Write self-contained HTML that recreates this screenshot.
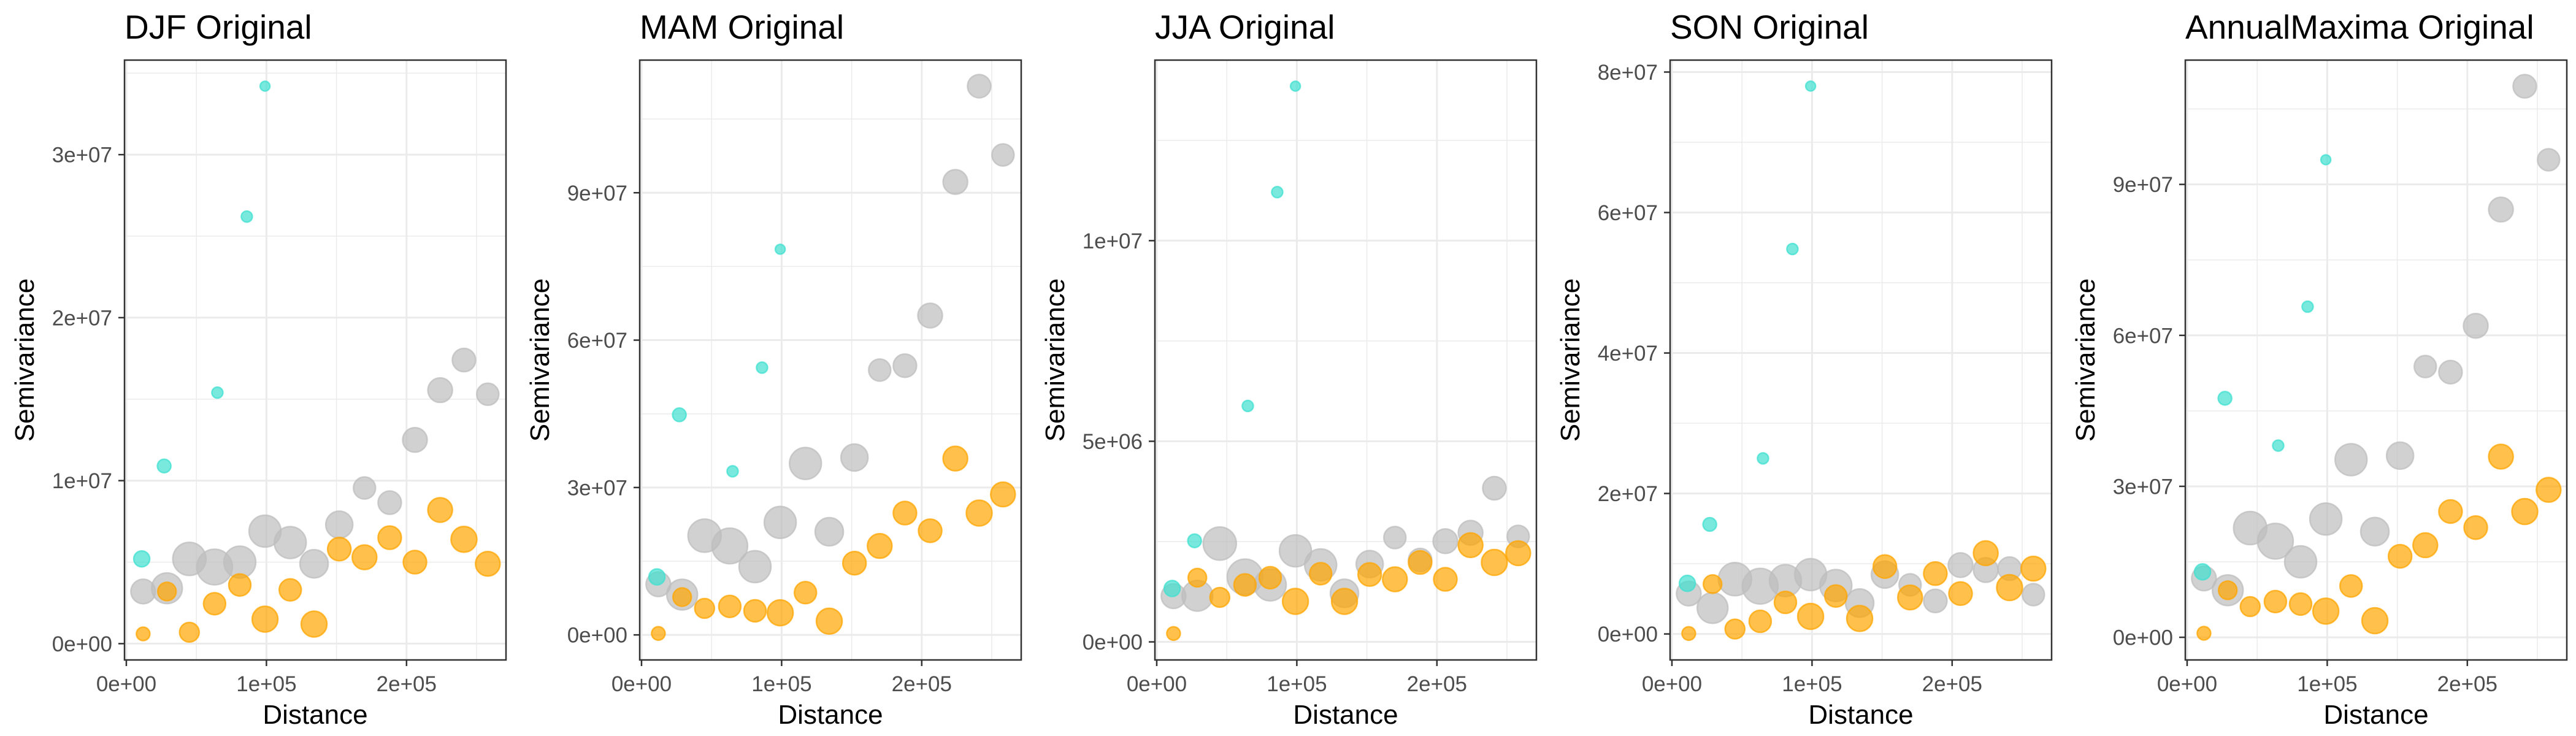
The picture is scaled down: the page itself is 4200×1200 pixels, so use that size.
<!DOCTYPE html>
<html><head><meta charset="utf-8">
<style>
html,body{margin:0;padding:0;background:#fff;}
svg{display:block;}
text{font-family:"Liberation Sans",Arial,sans-serif;}
</style></head>
<body>
<svg id="chart" width="4200" height="1200" viewBox="0 0 4200 1200" xmlns="http://www.w3.org/2000/svg"></svg>
<script>
// ---------- data ----------
const panelTitles = ["DJF Original","MAM Original","JJA Original","SON Original","AnnualMaxima Original"];
const yMins = [-0.1e7, -0.51e7, -0.45e6, -0.37e7, -0.45e7];
const yMaxs = [3.58e7, 11.7e7, 14.5e6, 8.17e7, 11.47e7];
const yTicks = [[0,1e7,2e7,3e7],[0,3e7,6e7,9e7],[0,5e6,1e7],[0,2e7,4e7,6e7,8e7],[0,3e7,6e7,9e7]];
const yTickLabels = [["0e+00","1e+07","2e+07","3e+07"],["0e+00","3e+07","6e+07","9e+07"],["0e+00","5e+06","1e+07"],["0e+00","2e+07","4e+07","6e+07","8e+07"],["0e+00","3e+07","6e+07","9e+07"]];
const xTicks = [0,1e5,2e5];
const xTickLabels = ["0e+00","1e+05","2e+05"];
const binDistances = [12000,29000,45000,63000,81000,99000,117000,134000,152000,170000,188000,206000,224000,241000,258000];
const cyanDistances = [11000,27000,65000,86000,99000];
// marker sizes (radius in px) per bin
const greySizes = [20,25,27,29,26,26,26,23,22,18,19,20,20,19,18];
const orangeSizes = [11,15,16,18,18,21,18,21,19,20,19,19,20,21,20];
const cyanSizes = [13,11,9,9,8];
// semivariance values per panel
const greyDJF = [0.32e7,0.34e7,0.52e7,0.47e7,0.50e7,0.69e7,0.62e7,0.49e7,0.73e7,0.955e7,0.865e7,1.25e7,1.555e7,1.74e7,1.53e7];
const orangeDJF = [0.06e7,0.32e7,0.07e7,0.245e7,0.36e7,0.15e7,0.33e7,0.12e7,0.58e7,0.53e7,0.65e7,0.50e7,0.82e7,0.64e7,0.49e7];
const cyanDJF = [0.52e7,1.09e7,1.54e7,2.62e7,3.42e7];
const greyMAM = [1.03e7,0.82e7,2.02e7,1.81e7,1.39e7,2.29e7,3.49e7,2.10e7,3.61e7,5.39e7,5.48e7,6.50e7,9.22e7,11.17e7,9.77e7];
const orangeMAM = [0.03e7,0.77e7,0.54e7,0.58e7,0.49e7,0.45e7,0.86e7,0.28e7,1.46e7,1.81e7,2.48e7,2.12e7,3.59e7,2.48e7,2.86e7];
const cyanMAM = [1.18e7,4.48e7,3.33e7,5.44e7,7.85e7];
const greyJJA = [1.14e6,1.15e6,2.45e6,1.62e6,1.42e6,2.27e6,1.92e6,1.21e6,1.94e6,2.60e6,2.04e6,2.51e6,2.72e6,3.83e6,2.63e6];
const orangeJJA = [0.21e6,1.60e6,1.11e6,1.42e6,1.60e6,1.01e6,1.70e6,1.01e6,1.68e6,1.56e6,1.98e6,1.56e6,2.41e6,1.98e6,2.21e6];
const cyanJJA = [1.33e6,2.52e6,5.88e6,11.21e6,13.85e6];
const greySON = [0.575e7,0.37e7,0.78e7,0.68e7,0.76e7,0.845e7,0.69e7,0.44e7,0.845e7,0.70e7,0.47e7,0.98e7,0.91e7,0.93e7,0.56e7];
const orangeSON = [0.007e7,0.71e7,0.07e7,0.18e7,0.45e7,0.25e7,0.54e7,0.22e7,0.96e7,0.52e7,0.86e7,0.575e7,1.15e7,0.66e7,0.93e7];
const cyanSON = [0.72e7,1.56e7,2.50e7,5.48e7,7.80e7];
const greyAM = [1.17e7,0.935e7,2.17e7,1.91e7,1.50e7,2.35e7,3.53e7,2.10e7,3.61e7,5.38e7,5.27e7,6.19e7,8.50e7,10.95e7,9.49e7];
const orangeAM = [0.08e7,0.935e7,0.61e7,0.71e7,0.66e7,0.52e7,1.02e7,0.33e7,1.61e7,1.83e7,2.50e7,2.18e7,3.59e7,2.50e7,2.93e7];
const cyanAM = [1.30e7,4.75e7,3.81e7,6.57e7,9.49e7];
const greySeries = [greyDJF,greyMAM,greyJJA,greySON,greyAM];
const orangeSeries = [orangeDJF,orangeMAM,orangeJJA,orangeSON,orangeAM];
const cyanSeries = [cyanDJF,cyanMAM,cyanJJA,cyanSON,cyanAM];

// ---------- drawing ----------
const NS = "http://www.w3.org/2000/svg";
const svg = document.getElementById("chart");
function mk(tag, attrs, parent){
  const e = document.createElementNS(NS, tag);
  for (const k in attrs) e.setAttribute(k, attrs[k]);
  parent.appendChild(e);
  return e;
}
const X_MIN = -1300, X_MAX = 271000;
const TOP = 98, BOTTOM = 1076;

panelTitles.forEach((title, p) => {
  const slot = p * 840;
  const L = slot + 203, R = slot + 825;
  const xs = v => L + (v - X_MIN) / (X_MAX - X_MIN) * (R - L);
  const ys = v => BOTTOM - (v - yMins[p]) / (yMaxs[p] - yMins[p]) * (BOTTOM - TOP);
  const g = mk("g", {}, svg);
  
  

  const ticks = yTicks[p];
  const step = ticks[1] - ticks[0];
  for (let v = ticks[0] - step/2; v <= yMaxs[p]; v += step) {
    if (v < yMins[p]) continue;
    const ln = mk("line", {x1:L, x2:R, y1:ys(v), y2:ys(v), stroke:"#EBEBEB", "stroke-width":1.5}, g);
    
    
  }
  [50000,150000,250000].forEach(v => {
    const ln = mk("line", {x1:xs(v), x2:xs(v), y1:TOP, y2:BOTTOM, stroke:"#EBEBEB", "stroke-width":1.5}, g);
    
    
  });
  ticks.forEach(v => {
    const ln = mk("line", {x1:L, x2:R, y1:ys(v), y2:ys(v), stroke:"#EBEBEB", "stroke-width":3}, g);
    
    
  });
  xTicks.forEach(v => {
    const ln = mk("line", {x1:xs(v), x2:xs(v), y1:TOP, y2:BOTTOM, stroke:"#EBEBEB", "stroke-width":3}, g);
    
    
  });

  const drawSeries = (vals, dists, sizes, color, name) => {
    vals.forEach((v, i) => {
      const c = mk("circle", {cx:xs(dists[i]), cy:ys(v), r:sizes[i], fill:color, "fill-opacity":0.7, stroke:color, "stroke-opacity":0.75, "stroke-width":2.5}, g);
      
      
    });
  };
  drawSeries(greySeries[p], binDistances, greySizes, "#BEBEBE", "grey");
  drawSeries(orangeSeries[p], binDistances, orangeSizes, "#FFA500", "orange");
  drawSeries(cyanSeries[p], cyanDistances, cyanSizes, "#40E0D0", "cyan");

  const b = mk("rect", {x:L, y:TOP, width:R-L, height:BOTTOM-TOP, fill:"none", stroke:"#333333", "stroke-width":2.5}, g);
  
  

  ticks.forEach((v, i) => {
    const t = mk("line", {x1:L-10, x2:L, y1:ys(v), y2:ys(v), stroke:"#333333", "stroke-width":2.5}, g);
    
    
    const tx = mk("text", {x:L-20, y:ys(v)+12.5, "text-anchor":"end", "font-size":35, fill:"#4D4D4D"}, g);
    tx.textContent = yTickLabels[p][i];
    
    
  });
  xTicks.forEach((v, i) => {
    const t = mk("line", {x1:xs(v), x2:xs(v), y1:BOTTOM, y2:BOTTOM+10, stroke:"#333333", "stroke-width":2.5}, g);
    
    
    const tx = mk("text", {x:xs(v), y:BOTTOM+51, "text-anchor":"middle", "font-size":35, fill:"#4D4D4D"}, g);
    tx.textContent = xTickLabels[i];
    
    
  });
  const tt = mk("text", {x:L, y:63, "font-size":55, fill:"#000"}, g);
  tt.textContent = title;
  
  
  const xt = mk("text", {x:(L+R)/2, y:1180, "text-anchor":"middle", "font-size":44, fill:"#000"}, g);
  xt.textContent = "Distance";
  
  
  const yx = slot + 55, yy = (TOP+BOTTOM)/2;
  const yt = mk("text", {x:yx, y:yy, "text-anchor":"middle", "font-size":44, fill:"#000", transform:`rotate(-90 ${yx} ${yy})`}, g);
  yt.textContent = "Semivariance";
  
  
});
</script>
</body></html>
